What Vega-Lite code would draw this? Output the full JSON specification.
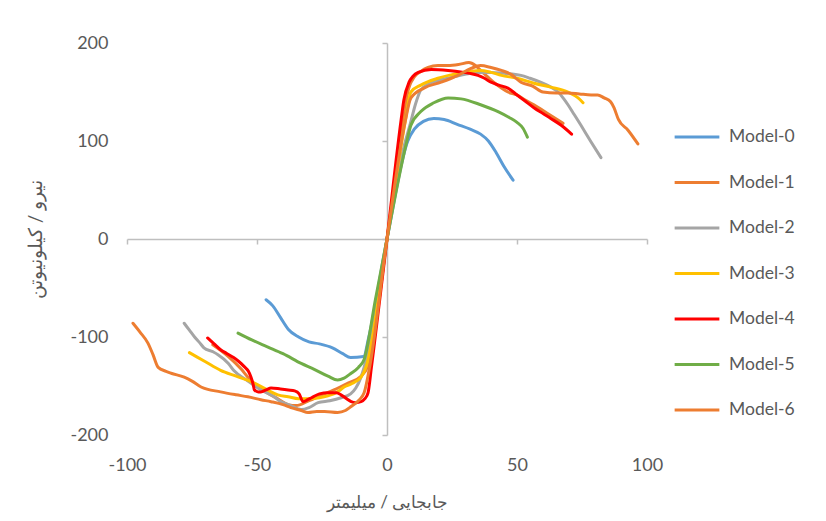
{
  "$schema": "https://vega.github.io/schema/vega-lite/v6.json",
  "width": 520,
  "height": 392,
  "autosize": {"type": "none"},
  "padding": {"left": 127, "top": 43, "right": 179, "bottom": 86},
  "background": "white",
  "config": {"view": {"stroke": null}, "font": "Lato"},
  "datasets": {
    "curves": [
      {"m":"Model-0","x":-46.5,"y":-62},{"m":"Model-0","x":-44,"y":-68},{"m":"Model-0","x":-41,"y":-80},{"m":"Model-0","x":-38,"y":-92},{"m":"Model-0","x":-34,"y":-100},{"m":"Model-0","x":-30,"y":-105},{"m":"Model-0","x":-26,"y":-107},{"m":"Model-0","x":-21,"y":-111},{"m":"Model-0","x":-17,"y":-117},{"m":"Model-0","x":-14,"y":-121},{"m":"Model-0","x":-9,"y":-120},{"m":"Model-0","x":-7,"y":-100},{"m":"Model-0","x":0,"y":0},{"m":"Model-0","x":8,"y":100},{"m":"Model-0","x":10.5,"y":112},{"m":"Model-0","x":14,"y":120},{"m":"Model-0","x":18,"y":123},{"m":"Model-0","x":22,"y":122},{"m":"Model-0","x":27,"y":117},{"m":"Model-0","x":32,"y":112},{"m":"Model-0","x":36,"y":107},{"m":"Model-0","x":39,"y":100},{"m":"Model-0","x":42,"y":88},{"m":"Model-0","x":45,"y":74},{"m":"Model-0","x":48.5,"y":60},

      {"m":"Model-1","x":-67,"y":-108},{"m":"Model-1","x":-61,"y":-120},{"m":"Model-1","x":-56,"y":-133},{"m":"Model-1","x":-53.5,"y":-141},{"m":"Model-1","x":-50,"y":-150},{"m":"Model-1","x":-46,"y":-157},{"m":"Model-1","x":-42,"y":-163},{"m":"Model-1","x":-38,"y":-169},{"m":"Model-1","x":-35,"y":-170},{"m":"Model-1","x":-30,"y":-165},{"m":"Model-1","x":-25,"y":-159},{"m":"Model-1","x":-20.4,"y":-154},{"m":"Model-1","x":-15,"y":-147},{"m":"Model-1","x":-10,"y":-140},{"m":"Model-1","x":-7.3,"y":-129},{"m":"Model-1","x":0,"y":0},{"m":"Model-1","x":6.5,"y":125},{"m":"Model-1","x":8,"y":150},{"m":"Model-1","x":10.4,"y":165},{"m":"Model-1","x":13,"y":171},{"m":"Model-1","x":15.8,"y":175},{"m":"Model-1","x":19.6,"y":177},{"m":"Model-1","x":23.5,"y":177},{"m":"Model-1","x":27.5,"y":178},{"m":"Model-1","x":31.5,"y":180},{"m":"Model-1","x":34,"y":177},{"m":"Model-1","x":36,"y":172},{"m":"Model-1","x":38.5,"y":166},{"m":"Model-1","x":41,"y":160},{"m":"Model-1","x":44,"y":154},{"m":"Model-1","x":46.5,"y":150},{"m":"Model-1","x":50,"y":147},{"m":"Model-1","x":53,"y":142},{"m":"Model-1","x":56.5,"y":137},{"m":"Model-1","x":60,"y":131},{"m":"Model-1","x":63,"y":126},{"m":"Model-1","x":67.7,"y":118},

      {"m":"Model-2","x":-78,"y":-86},{"m":"Model-2","x":-76,"y":-93},{"m":"Model-2","x":-74,"y":-100},{"m":"Model-2","x":-72,"y":-106},{"m":"Model-2","x":-70.4,"y":-111},{"m":"Model-2","x":-67,"y":-115},{"m":"Model-2","x":-65,"y":-118},{"m":"Model-2","x":-61,"y":-127},{"m":"Model-2","x":-59,"y":-134},{"m":"Model-2","x":-54,"y":-144},{"m":"Model-2","x":-48.5,"y":-154},{"m":"Model-2","x":-44,"y":-160},{"m":"Model-2","x":-40.8,"y":-166},{"m":"Model-2","x":-37,"y":-170},{"m":"Model-2","x":-33,"y":-174},{"m":"Model-2","x":-30,"y":-172},{"m":"Model-2","x":-26.5,"y":-167},{"m":"Model-2","x":-22,"y":-165},{"m":"Model-2","x":-17.7,"y":-162},{"m":"Model-2","x":-14,"y":-158},{"m":"Model-2","x":-12,"y":-152},{"m":"Model-2","x":-10,"y":-141},{"m":"Model-2","x":-8.5,"y":-128},{"m":"Model-2","x":0,"y":0},{"m":"Model-2","x":6.5,"y":94},{"m":"Model-2","x":9,"y":118},{"m":"Model-2","x":11,"y":138},{"m":"Model-2","x":13,"y":152},{"m":"Model-2","x":16,"y":158},{"m":"Model-2","x":20,"y":162},{"m":"Model-2","x":25,"y":165},{"m":"Model-2","x":30,"y":168},{"m":"Model-2","x":35,"y":170},{"m":"Model-2","x":40,"y":170},{"m":"Model-2","x":45,"y":169},{"m":"Model-2","x":51.5,"y":167},{"m":"Model-2","x":55,"y":164},{"m":"Model-2","x":59,"y":160},{"m":"Model-2","x":63,"y":155},{"m":"Model-2","x":65.8,"y":150},{"m":"Model-2","x":68,"y":143},{"m":"Model-2","x":69.6,"y":137},{"m":"Model-2","x":72,"y":127},{"m":"Model-2","x":74.6,"y":116},{"m":"Model-2","x":78.5,"y":99},{"m":"Model-2","x":82.3,"y":83},

      {"m":"Model-3","x":-76,"y":-116},{"m":"Model-3","x":-70,"y":-125},{"m":"Model-3","x":-64,"y":-134},{"m":"Model-3","x":-58,"y":-140},{"m":"Model-3","x":-51,"y":-147},{"m":"Model-3","x":-46,"y":-154},{"m":"Model-3","x":-42,"y":-159},{"m":"Model-3","x":-38,"y":-161},{"m":"Model-3","x":-34,"y":-163},{"m":"Model-3","x":-30.4,"y":-163},{"m":"Model-3","x":-26,"y":-162},{"m":"Model-3","x":-22.7,"y":-160},{"m":"Model-3","x":-19,"y":-156},{"m":"Model-3","x":-16.5,"y":-151},{"m":"Model-3","x":-13.8,"y":-148},{"m":"Model-3","x":-10,"y":-141},{"m":"Model-3","x":-8,"y":-130},{"m":"Model-3","x":0,"y":0},{"m":"Model-3","x":7,"y":120},{"m":"Model-3","x":9.2,"y":150},{"m":"Model-3","x":13,"y":157},{"m":"Model-3","x":19.6,"y":164},{"m":"Model-3","x":27.3,"y":169},{"m":"Model-3","x":36,"y":172},{"m":"Model-3","x":40,"y":170},{"m":"Model-3","x":44,"y":167},{"m":"Model-3","x":50,"y":164},{"m":"Model-3","x":56.5,"y":159},{"m":"Model-3","x":63,"y":155},{"m":"Model-3","x":69.6,"y":150},{"m":"Model-3","x":73.5,"y":144},{"m":"Model-3","x":75.4,"y":139},

      {"m":"Model-4","x":-69,"y":-101},{"m":"Model-4","x":-66.5,"y":-107},{"m":"Model-4","x":-64,"y":-113},{"m":"Model-4","x":-61.5,"y":-117},{"m":"Model-4","x":-59,"y":-121},{"m":"Model-4","x":-57,"y":-125},{"m":"Model-4","x":-55,"y":-130},{"m":"Model-4","x":-53.3,"y":-135},{"m":"Model-4","x":-52.3,"y":-141},{"m":"Model-4","x":-51.5,"y":-148},{"m":"Model-4","x":-51,"y":-154},{"m":"Model-4","x":-49.5,"y":-156},{"m":"Model-4","x":-48.5,"y":-156},{"m":"Model-4","x":-46.5,"y":-154},{"m":"Model-4","x":-44.6,"y":-152},{"m":"Model-4","x":-41,"y":-153},{"m":"Model-4","x":-38,"y":-154},{"m":"Model-4","x":-35.5,"y":-155},{"m":"Model-4","x":-33.8,"y":-158},{"m":"Model-4","x":-32.3,"y":-166},{"m":"Model-4","x":-30.5,"y":-164},{"m":"Model-4","x":-29,"y":-162},{"m":"Model-4","x":-26,"y":-158},{"m":"Model-4","x":-22.7,"y":-157},{"m":"Model-4","x":-19.5,"y":-157},{"m":"Model-4","x":-17.7,"y":-159},{"m":"Model-4","x":-15.5,"y":-163},{"m":"Model-4","x":-13.8,"y":-166},{"m":"Model-4","x":-12,"y":-167},{"m":"Model-4","x":-10,"y":-166},{"m":"Model-4","x":-8.5,"y":-163},{"m":"Model-4","x":-7.3,"y":-157},{"m":"Model-4","x":-6,"y":-131},{"m":"Model-4","x":-5,"y":-110},{"m":"Model-4","x":0,"y":0},{"m":"Model-4","x":5.4,"y":121},{"m":"Model-4","x":6.5,"y":142},{"m":"Model-4","x":8.5,"y":160},{"m":"Model-4","x":10,"y":166},{"m":"Model-4","x":12,"y":170},{"m":"Model-4","x":17,"y":173},{"m":"Model-4","x":23.5,"y":172},{"m":"Model-4","x":29.6,"y":170},{"m":"Model-4","x":32,"y":169},{"m":"Model-4","x":35,"y":167},{"m":"Model-4","x":37.5,"y":164},{"m":"Model-4","x":40,"y":160},{"m":"Model-4","x":43,"y":157},{"m":"Model-4","x":46.5,"y":154},{"m":"Model-4","x":50,"y":147},{"m":"Model-4","x":53,"y":141},{"m":"Model-4","x":56.5,"y":134},{"m":"Model-4","x":60,"y":128},{"m":"Model-4","x":63,"y":123},{"m":"Model-4","x":67,"y":116},{"m":"Model-4","x":71,"y":107},

      {"m":"Model-5","x":-57.3,"y":-96},{"m":"Model-5","x":-52,"y":-103},{"m":"Model-5","x":-46,"y":-110},{"m":"Model-5","x":-40,"y":-117},{"m":"Model-5","x":-33,"y":-127},{"m":"Model-5","x":-28,"y":-133},{"m":"Model-5","x":-22.7,"y":-140},{"m":"Model-5","x":-19,"y":-144},{"m":"Model-5","x":-16.5,"y":-142},{"m":"Model-5","x":-13.8,"y":-137},{"m":"Model-5","x":-11,"y":-131},{"m":"Model-5","x":-8.8,"y":-123},{"m":"Model-5","x":-4.4,"y":-61},{"m":"Model-5","x":0,"y":0},{"m":"Model-5","x":7.3,"y":96},{"m":"Model-5","x":9.2,"y":116},{"m":"Model-5","x":13,"y":130},{"m":"Model-5","x":18,"y":139},{"m":"Model-5","x":23.5,"y":144},{"m":"Model-5","x":28.5,"y":143},{"m":"Model-5","x":36,"y":137},{"m":"Model-5","x":42.7,"y":130},{"m":"Model-5","x":47,"y":124},{"m":"Model-5","x":50,"y":119},{"m":"Model-5","x":52.3,"y":113},{"m":"Model-5","x":54,"y":104},

      {"m":"Model-6","x":-97.7,"y":-86},{"m":"Model-6","x":-95,"y":-95},{"m":"Model-6","x":-92,"y":-106},{"m":"Model-6","x":-90,"y":-118},{"m":"Model-6","x":-88,"y":-131},{"m":"Model-6","x":-85,"y":-135},{"m":"Model-6","x":-83,"y":-137},{"m":"Model-6","x":-78,"y":-141},{"m":"Model-6","x":-75,"y":-145},{"m":"Model-6","x":-71.5,"y":-151},{"m":"Model-6","x":-64,"y":-156},{"m":"Model-6","x":-58,"y":-159},{"m":"Model-6","x":-53.5,"y":-161},{"m":"Model-6","x":-48.5,"y":-164},{"m":"Model-6","x":-44.6,"y":-166},{"m":"Model-6","x":-40,"y":-169},{"m":"Model-6","x":-37,"y":-172},{"m":"Model-6","x":-33,"y":-175},{"m":"Model-6","x":-30.4,"y":-177},{"m":"Model-6","x":-27,"y":-176},{"m":"Model-6","x":-24,"y":-176},{"m":"Model-6","x":-19,"y":-177},{"m":"Model-6","x":-16,"y":-175},{"m":"Model-6","x":-13.8,"y":-171},{"m":"Model-6","x":-11,"y":-165},{"m":"Model-6","x":-8.8,"y":-157},{"m":"Model-6","x":-6.5,"y":-128},{"m":"Model-6","x":0,"y":0},{"m":"Model-6","x":7,"y":120},{"m":"Model-6","x":9.2,"y":144},{"m":"Model-6","x":14.2,"y":154},{"m":"Model-6","x":20.8,"y":160},{"m":"Model-6","x":27.3,"y":167},{"m":"Model-6","x":32.3,"y":174},{"m":"Model-6","x":36,"y":177},{"m":"Model-6","x":40,"y":175},{"m":"Model-6","x":44,"y":172},{"m":"Model-6","x":47.7,"y":168},{"m":"Model-6","x":51.5,"y":160},{"m":"Model-6","x":56,"y":156},{"m":"Model-6","x":60,"y":150},{"m":"Model-6","x":65,"y":149},{"m":"Model-6","x":69.6,"y":149},{"m":"Model-6","x":74,"y":148},{"m":"Model-6","x":78.5,"y":147},{"m":"Model-6","x":81,"y":147},{"m":"Model-6","x":83.5,"y":144},{"m":"Model-6","x":86,"y":140},{"m":"Model-6","x":87.3,"y":134},{"m":"Model-6","x":89,"y":122},{"m":"Model-6","x":92.7,"y":111},{"m":"Model-6","x":96.5,"y":97}
    ]
  },
  "data": {"name": "curves"},
  "layer": [
    {
      "mark": {"type": "line", "interpolate": "monotone", "strokeWidth": 3, "strokeCap": "round", "strokeJoin": "round"},
      "encoding": {
        "x": {
          "field": "x", "type": "quantitative",
          "scale": {"domain": [-100, 100], "nice": false, "zero": false},
          "axis": {
            "orient": "bottom", "values": [-100, -50, 0, 50, 100], "domain": false, "ticks": false, "tickSize": 0, "grid": false,
            "labelFlush": false, "labelOverlap": false, "labelExpr": "datum.value + ''",
            "labelFontSize": 18, "labelColor": "#595959", "labelPadding": 21, "labelFont": "Lato",
            "title": "جابجایی / میلیمتر", "titleFontSize": 17, "titleFontWeight": "normal", "titleColor": "#595959", "titlePadding": 20
          }
        },
        "y": {
          "field": "y", "type": "quantitative",
          "scale": {"domain": [-200, 200], "nice": false, "zero": false},
          "axis": {
            "orient": "left", "values": [-200, -100, 0, 100, 200], "domain": false, "ticks": false, "tickSize": 0, "grid": false,
            "labelFlush": false, "labelOverlap": false, "labelExpr": "datum.value + ''",
            "labelFontSize": 18, "labelColor": "#595959", "labelPadding": 19, "labelFont": "Lato",
            "title": "نیرو / کیلونیوتن", "titleFontSize": 19, "titleFontWeight": "normal", "titleColor": "#595959", "titlePadding": 24
          }
        },
        "color": {
          "field": "m", "type": "nominal",
          "scale": {
            "domain": ["Model-0", "Model-1", "Model-2", "Model-3", "Model-4", "Model-5", "Model-6"],
            "range": ["#5B9BD5", "#ED7D31", "#A5A5A5", "#FFC000", "#FF0000", "#70AD47", "#ED7D31"]
          },
          "legend": {
            "title": null, "orient": "none", "legendX": 546, "legendY": 70,
            "symbolType": "stroke", "symbolStrokeWidth": 3, "symbolSize": 2000,
            "labelFontSize": 17.5, "labelColor": "#595959", "labelFont": "Lato", "labelOffset": 8, "rowPadding": 12.5
          }
        }
      }
    },
    {
      "mark": {"type": "point", "opacity": 0},
      "encoding": {
        "x": {
          "field": "x", "type": "quantitative",
          "axis": {
            "orient": "bottom", "offset": -196, "values": [-100, -50, 0, 50, 100], "labels": false, "title": null, "grid": false,
            "domain": true, "domainColor": "#BFBFBF", "domainWidth": 1.5, "ticks": true, "tickColor": "#BFBFBF", "tickWidth": 1.5, "tickSize": 5
          }
        },
        "y": {
          "field": "y", "type": "quantitative",
          "axis": {
            "orient": "left", "offset": -260, "values": [-200, -100, 0, 100, 200], "labels": false, "title": null, "grid": false,
            "domain": true, "domainColor": "#BFBFBF", "domainWidth": 1.5, "ticks": true, "tickColor": "#BFBFBF", "tickWidth": 1.5, "tickSize": 5
          }
        }
      }
    }
  ],
  "resolve": {"axis": {"x": "independent", "y": "independent"}}
}
